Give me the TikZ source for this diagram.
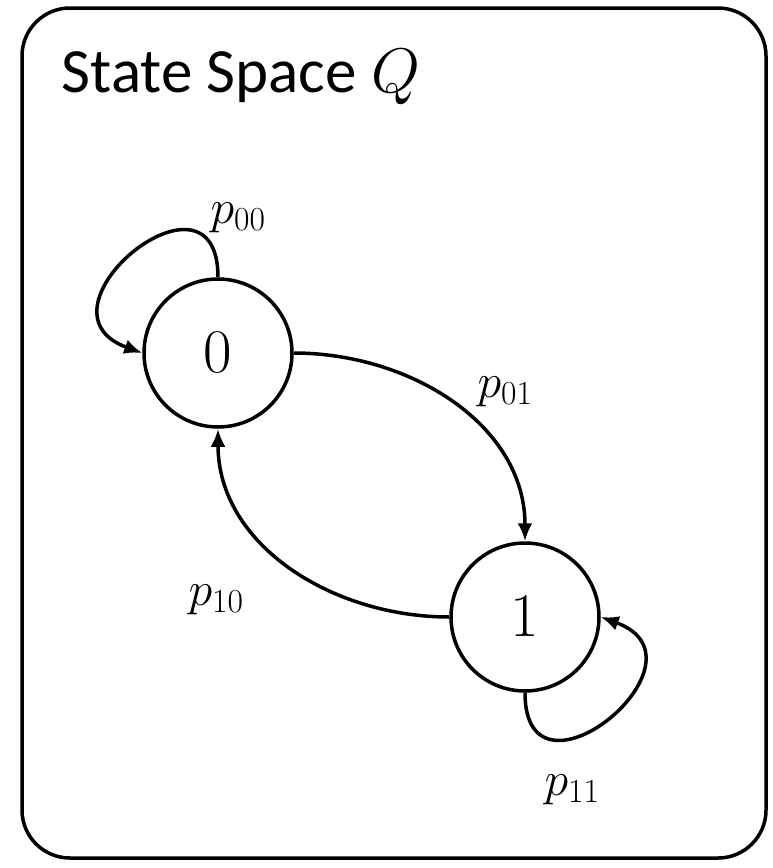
\RequirePackage{fix-cm}
\documentclass[tikz,border=0pt]{standalone}
\usepackage[no-math]{fontspec}
\setmainfont{Carlito}
\usetikzlibrary{arrows.meta}
\begin{document}
\begin{tikzpicture}[x=1pt,y=1pt,
  line width=3.5pt,
  statenode/.style={circle,draw,line width=3.5pt,minimum size=148pt,inner sep=0pt,font=\fontsize{62}{62}\selectfont},
  plabel/.style={font=\fontsize{48}{48}\selectfont,inner sep=0pt},
  arr/.style={-{Latex[length=18pt,width=15pt]},line width=3.5pt}]
\useasboundingbox (0,0) rectangle (772,-868);
\draw[rounded corners=48pt,line width=3.5pt] (22,-8) rectangle (766,-858);
\node[anchor=base west,inner sep=0pt,font=\fontsize{63}{63}\selectfont] (title) at (60,-92) {State Space $Q$};
\node[statenode] (s0) at (218,-353) {$0$};
\node[statenode] (s1) at (525,-617) {$1$};
\draw[arr] (s0.north) to[out=90,in=160,looseness=3] (s0.west);
\draw[arr] (s1.south) to[out=-90,in=-20,looseness=3] (s1.east);
\draw[arr] (s0.east) to[out=0,in=90] (s1.north);
\draw[arr] (s1.west) to[out=180,in=-90] (s0.south);
\node[plabel] (l00) at (238,-218) {$p_{00}$};
\node[plabel] (l01) at (505,-392) {$p_{01}$};
\node[plabel] (l10) at (216,-600) {$p_{10}$};
\node[plabel] (l11) at (572,-790) {$p_{11}$};
\end{tikzpicture}
\end{document}
